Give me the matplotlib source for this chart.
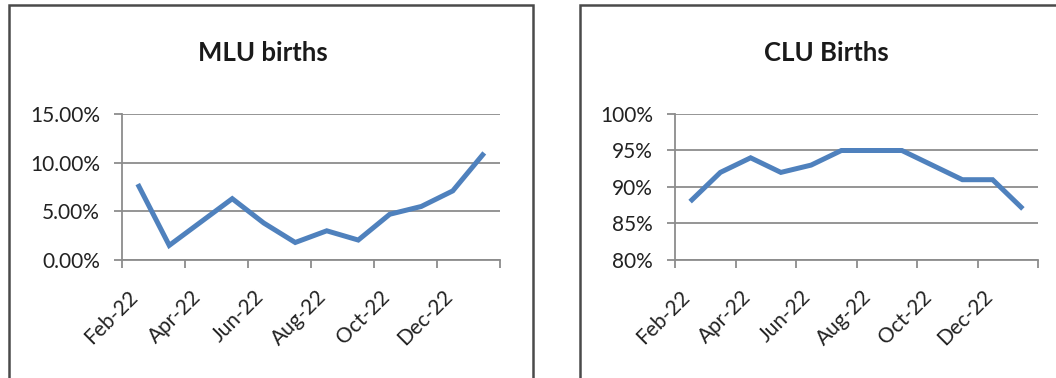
import matplotlib
matplotlib.use("Agg")
import matplotlib.pyplot as plt
from matplotlib.patches import Rectangle
from matplotlib.ticker import FixedLocator, FuncFormatter
from matplotlib.transforms import ScaledTranslation

plt.rcParams["font.family"] = ["Lato", "DejaVu Sans"]

MONTHS = ["Feb-22", "Mar-22", "Apr-22", "May-22", "Jun-22", "Jul-22",
          "Aug-22", "Sep-22", "Oct-22", "Nov-22", "Dec-22", "Jan-23"]
MLU_PCT = [7.8, 1.5, 3.9, 6.3, 3.8, 1.8, 3.0, 2.05, 4.7, 5.5, 7.1, 11.0]
CLU_PCT = [88, 92, 94, 92, 93, 95, 95, 95, 93, 91, 91, 87]

MLU_TICKS = [0, 5, 10, 15]
CLU_TICKS = [80, 85, 90, 95, 100]

LINE_COLOR = "#4F81BD"
GRID_COLOR = "#8C8C8C"

W, H = 1056, 378


def px_box(x0, y0, x1, y1):
    # pixel box (top-left origin) -> figure fraction [left, bottom, width, height]
    return [x0 / W, 1 - y1 / H, (x1 - x0) / W, (y1 - y0) / H]


def draw_panel(fig, box, title, title_xy, values, yticks, fmt):
    ax = fig.add_axes(box)
    n = len(values)
    ax.plot(range(n), values, color=LINE_COLOR, linewidth=3.6,
            solid_joinstyle="miter", solid_capstyle="butt", zorder=3)

    ax.set_xlim(-0.5, n - 0.5)
    ax.set_ylim(yticks[0], yticks[-1])

    # tick marks on category boundaries, labels on every other category
    ax.xaxis.set_major_locator(FixedLocator([i - 0.5 for i in range(0, n + 1, 2)]))
    ax.xaxis.set_major_formatter(FuncFormatter(lambda v, p: ""))
    ax.xaxis.set_minor_locator(FixedLocator(list(range(0, n, 2))))
    ax.set_xticklabels([MONTHS[i] for i in range(0, n, 2)], minor=True,
                       rotation=45, ha="right")
    ax.tick_params(axis="x", which="major", length=6, width=1.3, color=GRID_COLOR)
    ax.tick_params(axis="x", which="minor", length=0, pad=19, labelsize=15,
                   labelcolor="#222222")
    shift = ScaledTranslation(4 / 100, 0, fig.dpi_scale_trans)
    for lab in ax.get_xticklabels(minor=True):
        lab.set_transform(lab.get_transform() + shift)

    ax.set_yticks(yticks)
    ax.set_yticklabels([fmt(v) for v in yticks])
    ax.tick_params(axis="y", length=6, width=1.3, color=GRID_COLOR, pad=10,
                   labelsize=15, labelcolor="#222222")

    ax.grid(True, axis="y", color=GRID_COLOR, linewidth=1.3)
    ax.set_axisbelow(True)
    for side in ("top", "right"):
        ax.spines[side].set_visible(False)
    for side in ("left", "bottom"):
        ax.spines[side].set_color(GRID_COLOR)
        ax.spines[side].set_linewidth(1.3)

    fig.text(title_xy[0] / W, 1 - title_xy[1] / H, title, ha="center",
             va="center", fontsize=18.5, fontweight="bold", color="#1a1a1a")
    return ax


fig = plt.figure(figsize=(W / 100, H / 100), dpi=100)

# chart frames
fig.patches.append(Rectangle((9 / W, -0.01), (533 - 9) / W, 1.01 - 5 / H,
                             transform=fig.transFigure, fill=False,
                             edgecolor="#4a4a4a", linewidth=1.8))
fig.patches.append(Rectangle((580 / W, -0.01), (1070 - 580) / W, 1.01 - 5 / H,
                             transform=fig.transFigure, fill=False,
                             edgecolor="#4a4a4a", linewidth=1.8))

draw_panel(fig, px_box(122, 114, 500, 260), "MLU births", (263, 53),
           MLU_PCT, MLU_TICKS, lambda v: f"{v:.2f}%")
draw_panel(fig, px_box(675, 114, 1038, 260), "CLU Births", (826, 53),
           CLU_PCT, CLU_TICKS, lambda v: f"{v:d}%")

fig.savefig("out.png", dpi=100)
